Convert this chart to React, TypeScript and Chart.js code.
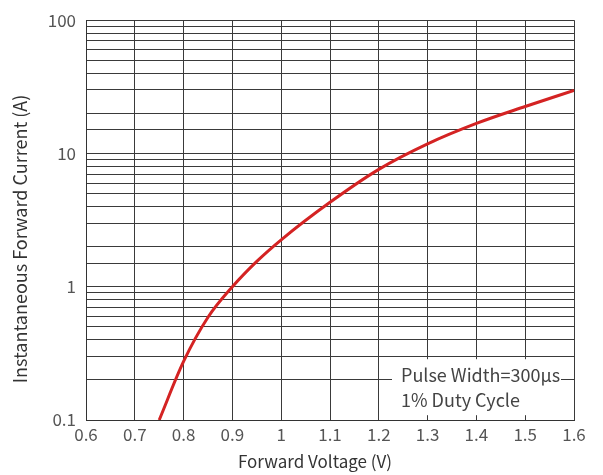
import React, { useEffect, useRef } from "react";
import { Chart, registerables } from "chart.js";

Chart.register(...registerables);

const voltage = [0.75, 0.8, 0.85, 0.9, 0.95, 1.0, 1.1, 1.2, 1.3, 1.4, 1.5, 1.6];
const current = [0.1, 0.275, 0.59, 1.0, 1.55, 2.25, 4.3, 7.6, 11.8, 16.8, 22.5, 29.7];
const yLabels = [0.1, 1, 10, 100];
const noteLines = ["Pulse Width=300μs", "1% Duty Cycle"];
const xTitle = "Forward Voltage (V)";
const yTitle = "Instantaneous Forward Current (A)";

const FONT = "'Noto Sans CJK SC', 'Noto Sans', sans-serif";

const textPlugin = {
  id: "texts",
  afterDatasetsDraw(chart: any) {
    const { ctx, chartArea } = chart;
    ctx.save();
    ctx.fillStyle = "#ffffff";
    const x0 = chartArea.left + 306;
    const y0 = chartArea.top + 339;
    ctx.fillRect(x0, y0, 169, 56);
    ctx.fillStyle = "#444444";
    ctx.font = `18px ${FONT}`;
    ctx.textBaseline = "alphabetic";
    ctx.textAlign = "left";
    ctx.fillText(noteLines[0], x0 + 9, y0 + 23);
    ctx.fillText(noteLines[1], x0 + 9, y0 + 48);
    ctx.restore();
  },
  afterDraw(chart: any) {
    const { ctx } = chart;
    ctx.save();
    ctx.fillStyle = "#333333";
    ctx.font = `17px ${FONT}`;
    ctx.textAlign = "center";
    ctx.textBaseline = "alphabetic";
    ctx.fillText(xTitle, 315, 468);
    ctx.translate(27, 239);
    ctx.rotate(-Math.PI / 2);
    ctx.font = `18px ${FONT}`;
    ctx.fillText(yTitle, 0, 0);
    ctx.restore();
  },
};

export default function App() {
  const ref = useRef<HTMLCanvasElement>(null);
  useEffect(() => {
    const chart = new Chart(ref.current as HTMLCanvasElement, {
      type: "line",
      data: {
        datasets: [
          {
            data: voltage.map((v, i) => ({ x: v, y: current[i] })),
            borderColor: "#d42323",
            borderWidth: 3,
            pointRadius: 0,
            cubicInterpolationMode: "monotone",
            fill: false,
          },
        ],
      },
      options: {
        animation: false,
        responsive: false,
        layout: { padding: { top: 18, right: 29, left: 0, bottom: 0 } },
        plugins: { legend: { display: false }, tooltip: { enabled: false } },
        scales: {
          x: {
            type: "linear",
            min: 0.6,
            max: 1.6,
            ticks: {
              stepSize: 0.1,
              padding: 4,
              color: "#555555",
              font: { family: FONT, size: 17 },
              callback: (v: any) => String(Number(Number(v).toFixed(1))),
            },
            grid: { color: "#3a3a3a", lineWidth: 1, drawTicks: false },
            border: { color: "#333333", width: 1 },
            afterFit: (s: any) => {
              s.height = 55;
            },
          },
          y: {
            type: "logarithmic",
            min: 0.1,
            max: 100,
            ticks: {
              autoSkip: false,
              padding: 10,
              color: "#555555",
              font: { family: FONT, size: 17 },
              callback: (v: any) => {
                const n = Number(v);
                const hit = yLabels.find((l) => Math.abs(l - n) / l < 1e-6);
                return hit !== undefined ? String(hit) : "";
              },
            },
            grid: { color: "#3a3a3a", lineWidth: 1, drawTicks: false },
            border: { color: "#333333", width: 1 },
            afterFit: (s: any) => {
              s.width = 86;
            },
          },
        },
      },
      plugins: [textPlugin],
    } as any);
    return () => chart.destroy();
  }, []);
  return (
    <div style={{ position: "absolute", left: 0, top: 0, width: 603, height: 475, background: "#fff" }}>
      <canvas ref={ref} width={603} height={475} />
    </div>
  );
}
